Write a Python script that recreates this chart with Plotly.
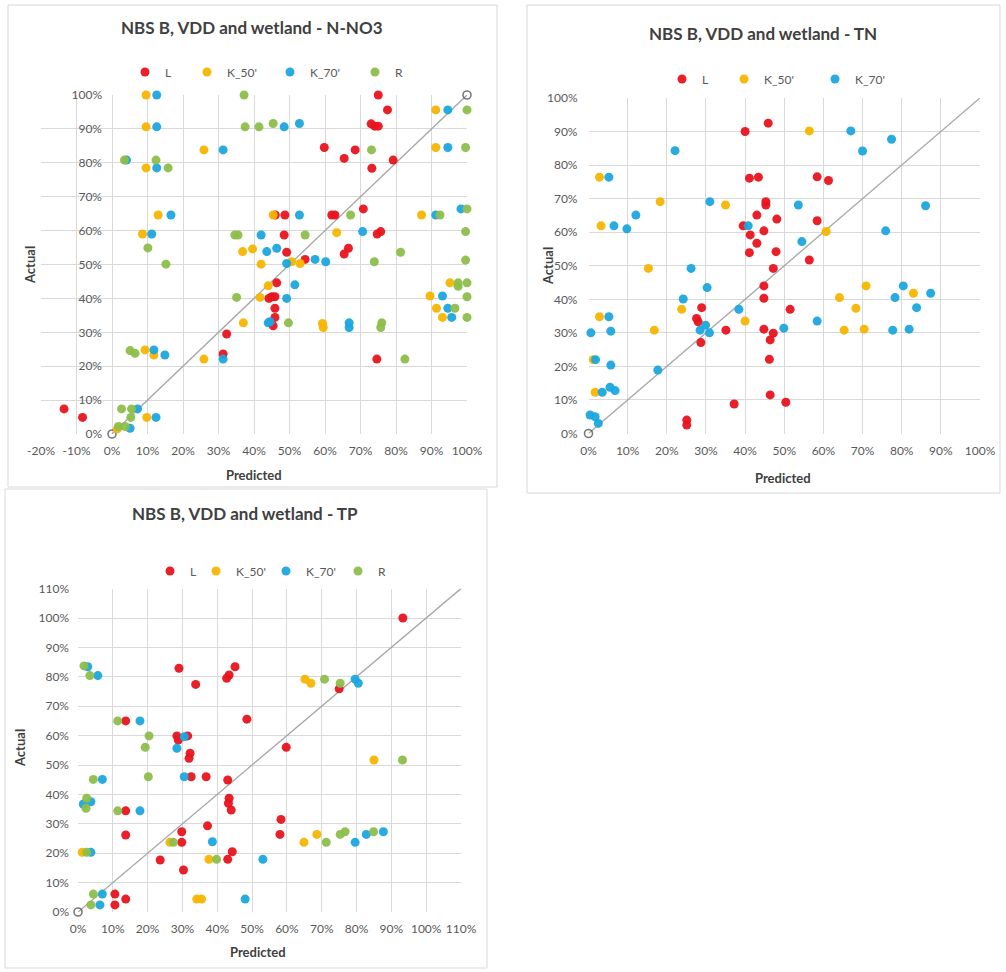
import plotly.graph_objects as go

# ---------------- DATA (percent values) ----------------
SERIES = ["L", "K_50'", "K_70'", "R"]

# Panel 1: N-NO3
NO3_L_PRED = [75, 77.6, 73, 74, 75, 59.8, 68.5, 65.4, 79.2, 73.2, 70.8, 46, 48.7, 61.9, 62.8, 48.5, 74.7, 75.7,
              49.2, 54.4, 65.4, 66.6, -13.5, -8.3, 44.2, 32.3, 31.3, 46.4, 45, 45.9, 45.9, 45.9, 45.4, 74.6]
NO3_L_ACT = [100, 95.6, 91.5, 90.8, 90.8, 84.5, 83.8, 81.3, 80.8, 78.4, 66.4, 64.6, 64.6, 64.6, 64.6, 58.7, 59, 59.7,
             53.6, 51.5, 53.1, 54.8, 7.4, 4.9, 40, 29.5, 23.6, 44.6, 40.5, 40.5, 37.1, 34.4, 31.9, 22.1]
NO3_K50_PRED = [9.6, 9.6, 25.9, 9.6, 13, 8.6, 36.8, 39.6, 42, 91.2, 91.2, 45.4, 63.3, 87.2, 50.6, 53, 41.7, 44, 37,
                25.9, 9.3, 11.8, 9.8, 1.5, 59.3, 59.5, 89.6, 95.2, 91.4, 93.1]
NO3_K50_ACT = [100, 90.6, 83.8, 78.5, 64.6, 59, 53.8, 54.6, 50.1, 95.6, 84.5, 64.6, 59.4, 64.6, 50.8, 50.3, 40.3, 43.7,
               32.8, 22.1, 24.8, 23.3, 4.9, 1.5, 32.6, 31.4, 40.7, 44.6, 37.1, 34.4]
NO3_K70_PRED = [12.6, 12.6, 31.3, 4.1, 12.6, 16.6, 11.2, 42, 43.6, 94.6, 48.5, 52.8, 94.6, 52.8, 91.2, 98.3, 70.6, 46.4,
                57.2, 60.2, 49.2, 44, 31.3, 11.8, 14.9, 7.2, 12.4, 5.1, 51.5, 49.2, 44.5, 66.8, 66.8, 93.1, 94.6, 95.7]
NO3_K70_ACT = [100, 90.6, 83.8, 80.8, 78.5, 64.6, 59, 58.7, 53.8, 95.6, 90.6, 91.6, 84.5, 64.6, 64.6, 66.4, 59.7, 54.8,
               51.5, 50.8, 50.3, 32.8, 22.1, 24.8, 23.3, 7.4, 4.9, 1.7, 44, 40, 33.1, 32.8, 31.4, 40.7, 37.1, 34.4]
NO3_R_PRED = [37.2, 37.5, 41.4, 45.4, 3.5, 12.4, 15.8, 10.1, 15.2, 34.6, 35.5, 100, 73.1, 99.6, 67.2, 92.4, 100, 54.4,
              99.6, 81.3, 99.6, 73.9, 35.1, 5.1, 6.5, 2.7, 5.5, 5.3, 1.8, 3.7, 49.7, 76, 75.7, 82.5, 97.5, 100, 97.5,
              100, 96.6, 100]
NO3_R_ACT = [100, 90.6, 90.6, 91.6, 80.8, 80.8, 78.5, 54.9, 50.1, 58.7, 58.7, 95.6, 83.8, 84.5, 64.6, 64.6, 66.4, 58.7,
             59.7, 53.6, 51.3, 50.8, 40.3, 24.6, 23.8, 7.4, 7.4, 4.9, 2.2, 2.2, 32.8, 32.8, 31.4, 22.1, 44.6, 44.6, 43.6,
             40.5, 37.1, 34.4]

# Panel 2: TN
TN_L_PRED = [40, 45.9, 41.1, 43.4, 45.3, 45.3, 43, 39.5, 44.8, 41.3, 43, 41.1, 58.4, 61.3, 48.1, 58.4, 47.9, 56.4, 47.2,
             44.8, 44.8, 28.9, 27.6, 28, 35.1, 44.8, 46.4, 28.7, 46.2, 37.2, 46.4, 25.1, 25.1, 51.5, 47.2, 50.4]
TN_L_ACT = [90, 92.5, 76.1, 76.4, 69.1, 68.1, 65.1, 61.9, 60.4, 59.2, 56.7, 53.9, 76.5, 75.4, 63.9, 63.4, 54.2, 51.7,
            49.2, 44, 40.3, 37.5, 34.3, 33.3, 30.8, 31.1, 27.9, 27.1, 22.1, 8.8, 11.5, 4, 2.5, 37, 29.9, 9.3]
TN_K50_PRED = [2.8, 18.3, 35, 3.2, 15.3, 56.4, 60.7, 23.8, 40, 2.8, 16.8, 1.2, 1.7, 64.1, 70.9, 68.3, 65.3, 70.4, 83]
TN_K50_ACT = [76.4, 69.1, 68.1, 61.9, 49.2, 90.2, 60.2, 37, 33.5, 34.8, 30.8, 22, 12.3, 40.5, 44, 37.3, 30.8, 31.1, 41.8]
TN_K70_PRED = [22.1, 5.2, 31, 12.1, 6.5, 9.8, 40.8, 26.2, 67, 77.4, 70, 53.6, 86.1, 75.9, 54.5, 30.3, 24.2, 38.4, 5.2,
               29.9, 28.5, 30.9, 0.6, 5.7, 1.8, 5.7, 17.7, 5.5, 6.8, 3.5, 0.4, 1.7, 2.5, 49.9, 58.4, 80.4, 78.3, 87.4,
               83.8, 77.7, 81.9]
TN_K70_ACT = [84.3, 76.4, 69.1, 65.1, 61.9, 61, 61.9, 49.2, 90.2, 87.7, 84.2, 68.1, 67.9, 60.4, 57.2, 43.5, 40.1, 37,
              34.8, 32.3, 30.8, 30, 30, 30.5, 22, 20.4, 18.9, 13.8, 12.8, 12.3, 5.5, 5, 3, 31.4, 33.5, 44, 40.5, 41.8,
              37.5, 30.8, 31.1]

# Panel 3: TP
TP_L_PRED = [29, 45.1, 42.7, 43.4, 33.8, 13.7, 28.4, 28.8, 31.5, 32.2, 93.3, 75, 48.5, 59.8, 31.9, 32.5, 36.8, 43,
             13.7, 43.4, 43.2, 44, 13.7, 29.8, 37.2, 29.8, 23.6, 43, 44.3, 30.3, 10.6, 10.6, 13.7, 58.3, 58]
TP_L_ACT = [82.9, 83.4, 79.5, 80.6, 77.4, 65, 59.9, 58.5, 59.9, 54, 100, 75.9, 65.6, 56, 52.3, 46, 46, 44.9,
            34.4, 38.7, 37, 34.7, 26.2, 27.3, 29.3, 23.7, 17.7, 17.9, 20.5, 14.3, 6.1, 2.4, 4.4, 31.5, 26.4]
TP_K50_PRED = [65.2, 66.9, 26.4, 1.2, 37.6, 34.1, 35.5, 85, 64.9, 68.6]
TP_K50_ACT = [79.2, 77.8, 23.7, 20.3, 17.9, 4.4, 4.4, 51.7, 23.7, 26.4]
TP_K70_PRED = [2.8, 5.7, 17.8, 30.5, 28.4, 79.6, 80.5, 7, 30.5, 3.7, 1.5, 17.8, 38.6, 3.7, 7, 6.3, 48, 79.6, 82.8,
               87.7, 53.1]
TP_K70_ACT = [83.4, 80.4, 65, 59.6, 55.7, 79.2, 77.8, 45.1, 46, 37.5, 36.7, 34.4, 23.9, 20.3, 6.1, 2.4, 4.4, 23.7, 26.4,
              27.3, 17.9]
TP_R_PRED = [1.7, 3.4, 11.4, 20.4, 19.3, 70.8, 75.3, 4.4, 20.2, 2.5, 2.3, 11.4, 27.4, 2.5, 39.8, 4.4, 3.7, 93.2, 71.3,
             75.3, 76.7, 84.9]
TP_R_ACT = [83.7, 80.4, 65, 59.9, 56, 79.2, 77.8, 45.1, 46, 38.7, 35.3, 34.4, 23.7, 20.3, 17.9, 6.1, 2.4, 51.7, 23.7,
            26.4, 27.3, 27.3]

# 1:1 reference lines
LINE_100 = [0, 100]
LINE_110 = [0, 110]

TITLES = ["NBS B, VDD and wetland - N-NO3", "NBS B, VDD and wetland - TN", "NBS B, VDD and wetland - TP"]
TICKS_P1_X = list(range(-20, 101, 10))
TICKS_100 = list(range(0, 101, 10))
TICKS_110 = list(range(0, 111, 10))

# ---------------- STYLE ----------------
W, H = 1006, 972
COLORS = {"L": "#E8141E", "K_50'": "#F7B500", "K_70'": "#1BA6DE", "R": "#8DBE4A"}
FONT = "Lato"
TICK_COLOR = "#595959"
GRID = "#D9D9D9"
TITLE_COLOR = "#404040"


def px(x):
    return x / W


def py(y):
    return 1 - y / H


fig = go.Figure()


def add_line(xa, ya, pts, sizes):
    fig.add_trace(go.Scatter(x=pts, y=pts, mode="lines+markers", xaxis=xa, yaxis=ya, showlegend=False,
                             line=dict(color="#A6A6A6", width=1.3), hoverinfo="skip", cliponaxis=False,
                             marker=dict(symbol="circle-open", size=sizes, color="#404040",
                                         line=dict(width=1.6, color="#404040"))))


def add_series(xa, ya, legend, name, xs, ys, lw):
    fig.add_trace(go.Scatter(x=xs, y=ys, mode="markers", name=name, xaxis=xa, yaxis=ya, legend=legend,
                             legendwidth=lw, cliponaxis=False,
                             marker=dict(size=9, color=COLORS[name], opacity=0.95, line=dict(width=0))))


# panel 1
add_line("x", "y", LINE_100, [8, 8])
for name, xs, ys, lw in [("L", NO3_L_PRED, NO3_L_ACT, 17), ("K_50'", NO3_K50_PRED, NO3_K50_ACT, 38),
                         ("K_70'", NO3_K70_PRED, NO3_K70_ACT, 40), ("R", NO3_R_PRED, NO3_R_ACT, 10)]:
    add_series("x", "y", "legend", name, xs, ys, lw)
# panel 2
add_line("x2", "y2", LINE_100, [8, 0])
for name, xs, ys, lw in [("L", TN_L_PRED, TN_L_ACT, 17), ("K_50'", TN_K50_PRED, TN_K50_ACT, 46),
                         ("K_70'", TN_K70_PRED, TN_K70_ACT, 40)]:
    add_series("x2", "y2", "legend2", name, xs, ys, lw)
# panel 3
add_line("x3", "y3", LINE_110, [8, 0])
for name, xs, ys, lw in [("L", TP_L_PRED, TP_L_ACT, 1), ("K_50'", TP_K50_PRED, TP_K50_ACT, 25),
                         ("K_70'", TP_K70_PRED, TP_K70_ACT, 27), ("R", TP_R_PRED, TP_R_ACT, 10)]:
    add_series("x3", "y3", "legend3", name, xs, ys, lw)


def axis(domain, rng, ticks, **kw):
    d = dict(domain=domain, range=rng, tickvals=ticks, ticktext=[f"{t}%" for t in ticks], showgrid=True,
             gridcolor=GRID, gridwidth=1, zeroline=False, showline=False, ticks="", automargin=False,
             tickfont=dict(family=FONT, size=12, color=TICK_COLOR), fixedrange=True)
    d.update(kw)
    return d


leg = dict(orientation="h", xanchor="left", yanchor="middle", bgcolor="rgba(0,0,0,0)",
           font=dict(family=FONT, size=12, color=TICK_COLOR), itemclick=False, tracegroupgap=0)

fig.update_layout(
    width=W, height=H, margin=dict(l=0, r=0, t=0, b=0, autoexpand=False), paper_bgcolor="white",
    plot_bgcolor="white", font=dict(family=FONT),
    xaxis=axis([px(41), px(467)], [-20, 100], TICKS_P1_X, anchor="y", ticklabelstandoff=8),
    yaxis=axis([py(434), py(95)], [0, 100], TICKS_100, anchor="free", position=px(112), ticklabelstandoff=10),
    xaxis2=axis([px(588.5), px(980)], [0, 100], TICKS_100, anchor="y2", ticklabelstandoff=8),
    yaxis2=axis([py(433.5), py(98)], [0, 100], TICKS_100, anchor="x2", ticklabelstandoff=10),
    xaxis3=axis([px(78), px(461)], [0, 110], TICKS_110, anchor="y3", ticklabelstandoff=8),
    yaxis3=axis([py(912), py(588.6)], [0, 110], TICKS_110, anchor="x3", ticklabelstandoff=8),
    legend=dict(leg, x=px(125), y=py(72)),
    legend2=dict(leg, x=px(662), y=py(79)),
    legend3=dict(leg, x=px(150), y=py(571)),
)

# panel frames
for x0, y0, x1, y1 in [(8, 5, 497, 487), (527, 5, 1000, 493), (5, 489, 487, 968)]:
    fig.add_shape(type="rect", xref="paper", yref="paper", x0=px(x0), x1=px(x1), y0=py(y0), y1=py(y1),
                  line=dict(color="#D9D9D9", width=1), fillcolor="rgba(0,0,0,0)", layer="below")

ann = []
for text, x, y in [(TITLES[0], 252, 28), (TITLES[1], 763, 33), (TITLES[2], 245, 513)]:
    ann.append(dict(text=f"<b>{text}</b>", x=px(x), y=py(y), xref="paper", yref="paper", showarrow=False,
                    xanchor="center", yanchor="middle", font=dict(family=FONT, size=17, color=TITLE_COLOR)))
for x, y in [(254, 475), (783, 478), (258, 952)]:
    ann.append(dict(text="<b>Predicted</b>", x=px(x), y=py(y), xref="paper", yref="paper", showarrow=False,
                    xanchor="center", yanchor="middle", font=dict(family=FONT, size=13, color=TITLE_COLOR)))
for x, y in [(30, 265), (548, 266), (20, 748)]:
    ann.append(dict(text="<b>Actual</b>", x=px(x), y=py(y), xref="paper", yref="paper", showarrow=False,
                    textangle=-90, xanchor="center", yanchor="middle",
                    font=dict(family=FONT, size=13, color=TITLE_COLOR)))
fig.update_layout(annotations=ann)

fig.write_html("out.html")
